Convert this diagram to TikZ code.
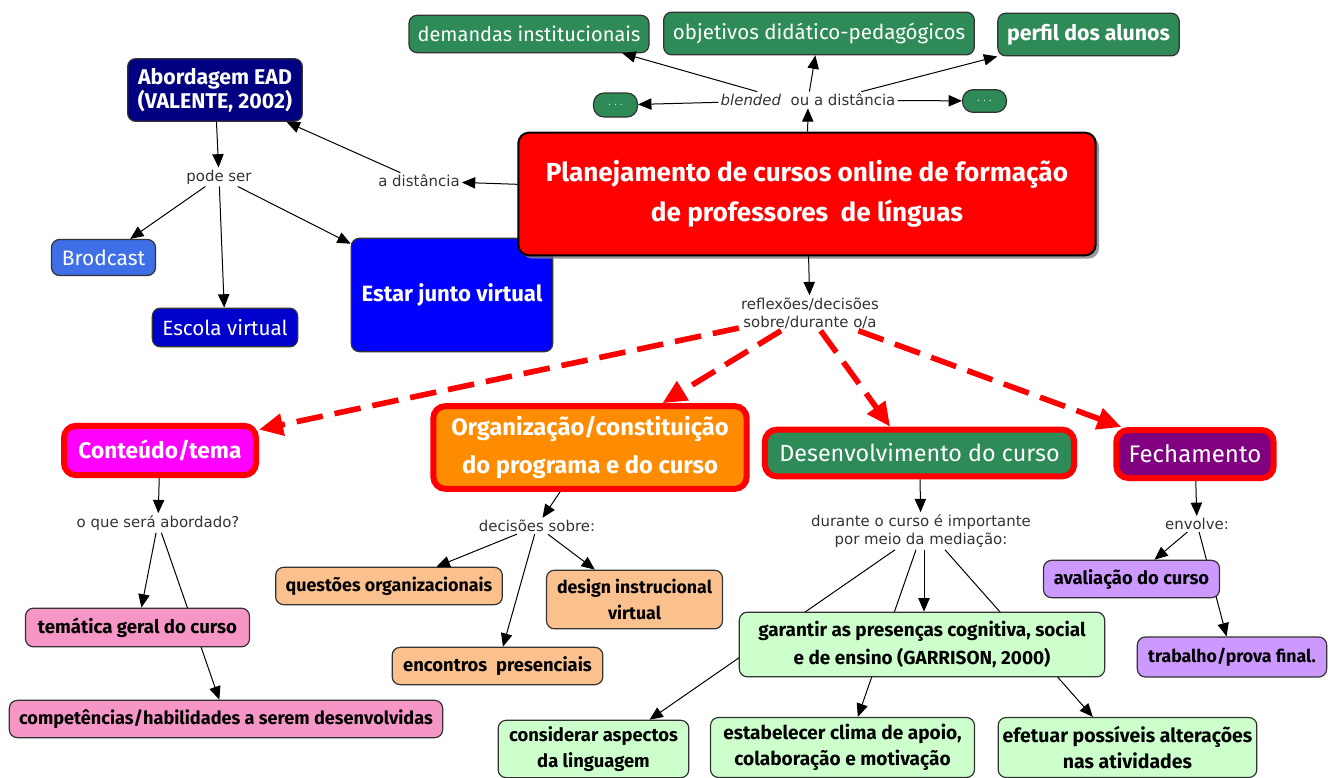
\documentclass[tikz,border=0pt]{standalone}
\usepackage{fontspec}
\setmainfont{DejaVu Sans}
\newfontfamily\boxfont{Fira Sans}
\usepackage{xcolor}
\usepackage{tikz}
\usetikzlibrary{arrows.meta,positioning,shadows,backgrounds}

\definecolor{mapgreen}{HTML}{2E8B57}
\definecolor{navyblue}{HTML}{000080}
\definecolor{brodblue}{HTML}{3F6FE6}
\definecolor{midblue}{HTML}{0000CD}
\definecolor{magentabox}{HTML}{FF00FF}
\definecolor{pinkbox}{HTML}{F596C6}
\definecolor{peach}{HTML}{FAC18F}
\definecolor{mint}{HTML}{CCFFCC}
\definecolor{lilac}{HTML}{CC99FF}
\definecolor{darkorange}{HTML}{FF8C00}
\definecolor{purplebox}{HTML}{800080}
\definecolor{labelgray}{HTML}{333333}

\begin{document}
\begin{tikzpicture}[x=0.75pt, y=-0.75pt,
  box/.style={draw=black!80, line width=0.9pt, rounded corners=6pt, align=center, inner sep=2pt},
  topbox/.style={box, fill=mapgreen, text=white, font=\boxfont\fontsize{15}{18}\selectfont},
  hdrbox/.style={box, draw=red, line width=4.5pt, rounded corners=9pt, text=white, font=\boxfont\fontsize{17.5}{28}\selectfont},
  leafbox/.style={box, font=\boxfont\bfseries\fontsize{13.8}{20}\selectfont},
  lbl/.style={text=labelgray, align=center, inner sep=1.5pt, font=\fontsize{11.2}{13.5}\selectfont},
  arr/.style={-{Triangle[length=10pt,width=8.5pt]}, line width=0.75pt},
  redarr/.style={-{Triangle[length=18pt,width=16pt]}, red, line width=4.2pt, dash pattern=on 20pt off 9pt}]
\useasboundingbox (0,0) rectangle (1328,778);

% Abordagem EAD
\node[lbl] (adist) at (419,181) {a distância};
\node[box, fill=navyblue, text=white, font=\boxfont\bfseries\fontsize{16}{18}\selectfont, minimum width=131pt, minimum height=47pt] (ead) at (215,90) {Abordagem EAD\\(VALENTE, 2002)};
\node[lbl] (podeser) at (219,177) {pode ser};
\node[box, fill=brodblue, text=white, font=\boxfont\fontsize{15.7}{18}\selectfont, minimum width=78pt, minimum height=27pt] (brod) at (103.5,257.5) {Brodcast};
\node[box, fill=midblue, text=white, font=\boxfont\fontsize{15.5}{18}\selectfont, minimum width=109pt, minimum height=29pt] (escola) at (225,327.5) {Escola virtual};
\node[box, fill=blue, text=white, font=\boxfont\bfseries\fontsize{16.6}{18}\selectfont, minimum width=151pt, minimum height=85pt] (estar) at (452,295) {Estar junto virtual};

% Main concept
\node[box, fill=red, draw=black, line width=1.5pt, rounded corners=8pt,
  drop shadow={shadow xshift=2.5pt, shadow yshift=-2.5pt, fill=gray, opacity=0.8},
  text=white, font=\boxfont\bfseries\fontsize{19.6}{30}\selectfont,
  minimum width=433pt, minimum height=92pt] (plan) at (807,194)
  {Planejamento de cursos online de formação\\de professores~~de línguas};

% Modalidade
\node[lbl] (modal) at (808,100) {\textit{blended}~ ou a distância};
\node[topbox, minimum width=180pt, minimum height=28pt] (demandas) at (529,34) {demandas institucionais};
\node[topbox, font=\boxfont\fontsize{15.4}{18}\selectfont, minimum width=233pt, minimum height=32pt] (objetivos) at (819,33.5) {objetivos didático-pedagógicos};
\node[topbox, font=\boxfont\bfseries\fontsize{16}{18}\selectfont, minimum width=136pt, minimum height=32pt] (perfil) at (1088.5,34.5) {perfil dos alunos};
\node[topbox, font=\fontsize{7}{8}\selectfont, minimum width=33pt, minimum height=18pt, rounded corners=8pt] (maisE) at (615.5,105) {.~.~.};
\node[topbox, font=\fontsize{7}{8}\selectfont, minimum width=33pt, minimum height=17pt, rounded corners=8pt] (maisD) at (984.5,101) {.~.~.};

% Reflexoes / decisoes
\node[lbl] (refl) at (810,313) {reflexões/decisões\\sobre/durante o/a};
\node[hdrbox, fill=magentabox, font=\boxfont\bfseries\fontsize{17}{28}\selectfont, minimum width=144pt, minimum height=37pt] (conteudo) at (160,450.5) {Conteúdo/tema};
\node[hdrbox, fill=darkorange, font=\boxfont\bfseries\fontsize{17.8}{28.5}\selectfont, minimum width=235pt, minimum height=62pt] (organiz) at (590,447.5) {Organização/constituição\\do programa e do curso};
\node[hdrbox, fill=mapgreen, minimum width=232pt, minimum height=35pt] (desenv) at (919.5,453) {Desenvolvimento do curso};
\node[hdrbox, fill=purplebox, font=\boxfont\fontsize{18}{28}\selectfont, minimum width=118pt, minimum height=36pt] (fecham) at (1195,454) {Fechamento};

% Conteudo
\node[lbl] (oque) at (158,523) {o que será abordado?};
\node[leafbox, font=\boxfont\bfseries\fontsize{14}{20}\selectfont, fill=pinkbox, minimum width=168pt, minimum height=29pt] (tematica) at (137.5,627.5) {temática geral do curso};
\node[leafbox, font=\boxfont\bfseries\fontsize{13.6}{20}\selectfont, fill=pinkbox, minimum width=325pt, minimum height=28pt] (compet) at (226,719) {competências/habilidades a serem desenvolvidas};

% Organizacao
\node[lbl] (decisoes) at (537,526) {decisões sobre:};
\node[leafbox, font=\boxfont\bfseries\fontsize{13.4}{20}\selectfont, fill=peach, minimum width=170pt, minimum height=28pt] (questoes) at (389,586) {questões organizacionais};
\node[leafbox, fill=peach, minimum width=158pt, minimum height=28pt] (encontros) at (497.5,666) {encontros~~presenciais};
\node[leafbox, font=\boxfont\bfseries\fontsize{13.3}{19}\selectfont, fill=peach, minimum width=132pt, minimum height=44pt] (design) at (634.5,599.5) {design instrucional\\virtual};

% Desenvolvimento
\node[lbl] (durante) at (921,531) {durante o curso é importante\\por meio da mediação:};
\node[leafbox, font=\boxfont\bfseries\fontsize{14.2}{21}\selectfont, fill=mint, minimum width=274pt, minimum height=48.5pt] (garantir) at (922,644.5) {garantir as presenças cognitiva, social\\e de ensino (GARRISON, 2000)};
\node[leafbox, fill=mint, minimum width=143pt, minimum height=43pt] (considerar) at (593.5,749) {considerar aspectos\\da linguagem};
\node[leafbox, font=\boxfont\bfseries\fontsize{14.3}{19.5}\selectfont, fill=mint, minimum width=198pt, minimum height=45pt] (estabelecer) at (842.5,747.5) {estabelecer clima de apoio,\\colaboração e motivação};
\node[leafbox, font=\boxfont\bfseries\fontsize{14.6}{19.5}\selectfont, fill=mint, minimum width=194pt, minimum height=45pt] (efetuar) at (1127.5,747.5) {efetuar possíveis alterações\\nas atividades};

% Fechamento
\node[lbl] (envolve) at (1197,524) {envolve:};
\node[leafbox, fill=lilac, minimum width=132pt, minimum height=28pt] (avaliacao) at (1131.5,579) {avaliação do curso};
\node[leafbox, font=\boxfont\bfseries\fontsize{13.3}{20}\selectfont, fill=lilac, minimum width=142pt, minimum height=30pt] (trabalho) at (1232,657) {trabalho/prova final.};

% Connectors
\draw[arr] (plan) -- (modal);
\draw[arr] ([xshift=-38pt]modal.north) -- ([xshift=70pt]demandas.south);
\draw[arr] (modal) -- (objetivos);
\draw[arr] ([xshift=40pt]modal.north) -- (perfil.south west);
\draw[arr] (modal) -- (maisE);
\draw[arr] (modal) -- (maisD);
\draw[arr] (plan) -- (adist);
\draw[arr] (adist) -- (ead);
\draw[arr] (ead) -- (podeser);
\draw[arr] (podeser) -- (brod);
\draw[arr] (podeser) -- (escola);
\draw[arr] (podeser) -- (estar);
\draw[arr] (plan) -- (refl);

\draw[redarr] (refl) -- (conteudo);
\draw[redarr] (refl) -- (organiz);
\draw[redarr] ([xshift=8pt]refl.south) -- ([xshift=-22pt]desenv.north);
\draw[redarr] (refl) -- (fecham);

\draw[arr] (conteudo) -- (oque);
\draw[arr] (oque) -- (tematica);
\draw[arr] (organiz) -- (decisoes);
\draw[arr] (decisoes) -- (questoes);
\draw[arr] (decisoes) -- (encontros);
\draw[arr] (decisoes) -- (design);
\draw[arr] (desenv) -- (durante);
\draw[arr] ([xshift=2.25pt]durante.south) -- ([xshift=2.25pt]durante.south |- garantir.north);
\draw[arr] (fecham) -- (envolve);
\draw[arr] (envolve) -- (avaliacao);

% lines passing behind boxes
\begin{scope}[on background layer]
\draw[arr] (oque) -- (compet);
\draw[arr] ([xshift=-19.5pt]durante.south) -- ([xshift=42pt]considerar.north);
\draw[arr] ([xshift=-3.75pt]durante.south) -- ([xshift=11.5pt]estabelecer.north);
\draw[arr] ([xshift=18pt]durante.south) -- ([xshift=-26pt]efetuar.north);
\draw[arr] (envolve) -- (trabalho);
\end{scope}

\end{tikzpicture}
\end{document}
